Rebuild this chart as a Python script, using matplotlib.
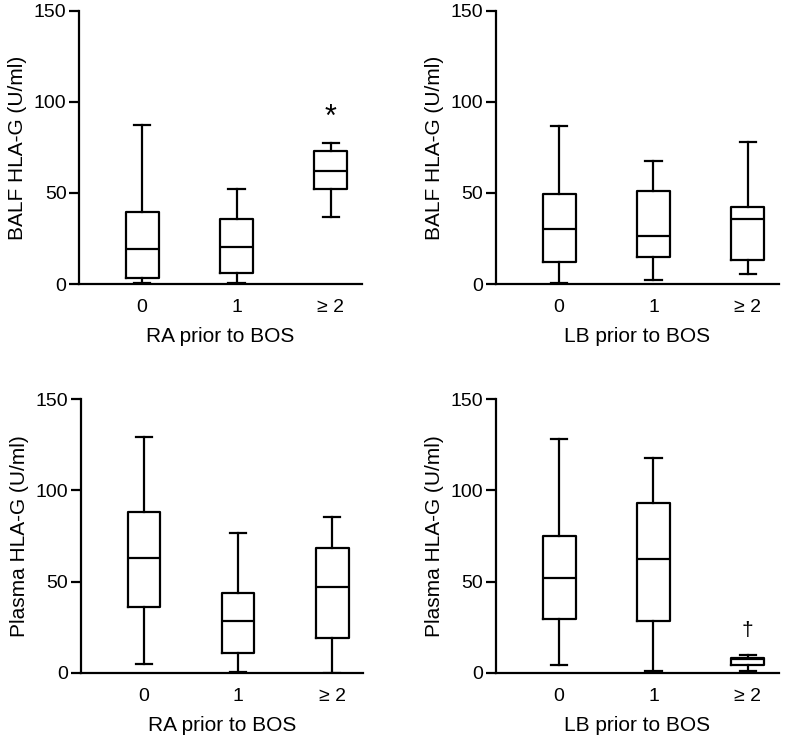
import numpy as np
import matplotlib.pyplot as plt

plt.rcParams['font.family'] = ['Liberation Sans', 'DejaVu Sans']

groups = ['0', '1', '≥ 2']

# BALF HLA-G, grouped by RA prior to BOS
balf_ra_lo = [0.3, 0.3, 36.6]
balf_ra_q1 = [3.5, 6.2, 52.0]
balf_ra_med = [19.0, 20.1, 62.3]
balf_ra_q3 = [39.7, 35.9, 73.3]
balf_ra_hi = [87.4, 52.4, 77.7]

# BALF HLA-G, grouped by LB prior to BOS
balf_lb_lo = [0.5, 2.2, 5.5]
balf_lb_q1 = [11.9, 14.8, 13.0]
balf_lb_med = [30.2, 26.5, 35.7]
balf_lb_q3 = [49.5, 51.3, 42.5]
balf_lb_hi = [86.8, 67.7, 77.8]

# Plasma HLA-G, grouped by RA prior to BOS
pl_ra_lo = [4.6, 0.6, 0.0]
pl_ra_q1 = [35.9, 11.0, 18.9]
pl_ra_med = [63.1, 28.2, 47.2]
pl_ra_q3 = [88.3, 43.5, 68.2]
pl_ra_hi = [129.3, 76.6, 85.4]

# Plasma HLA-G, grouped by LB prior to BOS
pl_lb_lo = [4.0, 0.7, 0.8]
pl_lb_q1 = [29.3, 28.4, 4.0]
pl_lb_med = [51.8, 62.4, 7.6]
pl_lb_q3 = [75.0, 93.1, 8.2]
pl_lb_hi = [128.2, 117.8, 9.5]


def make_stats(lo, q1, med, q3, hi):
    stats = []
    for i in range(len(lo)):
        stats.append({'whislo': lo[i], 'q1': q1[i], 'med': med[i],
                      'q3': q3[i], 'whishi': hi[i], 'fliers': []})
    return stats


def draw_panel(ax, stats, ylabel, xlabel):
    lw = 1.6
    ax.bxp(stats, positions=np.arange(len(stats)), widths=0.35,
           showfliers=False,
           boxprops=dict(color='black', linewidth=lw),
           whiskerprops=dict(color='black', linewidth=lw),
           capprops=dict(color='black', linewidth=lw),
           medianprops=dict(color='black', linewidth=lw))
    ax.set_xlim(-0.67, 2.33)
    ax.set_ylim(0, 150)
    ax.set_yticks([0, 50, 100, 150])
    ax.set_xticks(np.arange(len(groups)))
    ax.set_xticklabels(groups)
    ax.spines['top'].set_visible(False)
    ax.spines['right'].set_visible(False)
    ax.spines['left'].set_linewidth(lw)
    ax.spines['bottom'].set_linewidth(lw)
    ax.tick_params(axis='y', length=7, width=lw, labelsize=14, pad=2)
    ax.tick_params(axis='x', length=0, labelsize=14, pad=11)
    ax.set_ylabel(ylabel, fontsize=15, labelpad=5)
    ax.set_xlabel(xlabel, fontsize=15, labelpad=8)


fig = plt.figure(figsize=(7.86, 7.40), dpi=100)
ax1 = fig.add_axes([0.1005, 0.6162, 0.360, 0.369])
ax2 = fig.add_axes([0.631, 0.6162, 0.360, 0.369])
ax3 = fig.add_axes([0.103, 0.0909, 0.359, 0.3695])
ax4 = fig.add_axes([0.631, 0.0909, 0.360, 0.3695])

draw_panel(ax1, make_stats(balf_ra_lo, balf_ra_q1, balf_ra_med, balf_ra_q3, balf_ra_hi),
           'BALF HLA-G (U/ml)', 'RA prior to BOS')
draw_panel(ax2, make_stats(balf_lb_lo, balf_lb_q1, balf_lb_med, balf_lb_q3, balf_lb_hi),
           'BALF HLA-G (U/ml)', 'LB prior to BOS')
draw_panel(ax3, make_stats(pl_ra_lo, pl_ra_q1, pl_ra_med, pl_ra_q3, pl_ra_hi),
           'Plasma HLA-G (U/ml)', 'RA prior to BOS')
draw_panel(ax4, make_stats(pl_lb_lo, pl_lb_q1, pl_lb_med, pl_lb_q3, pl_lb_hi),
           'Plasma HLA-G (U/ml)', 'LB prior to BOS')

ax1.text(2, 91, '*', ha='center', va='center', fontsize=22, fontweight='light')
ax4.text(2, 23, '†', ha='center', va='center', fontsize=15)

fig.savefig('out.png', dpi=100)
